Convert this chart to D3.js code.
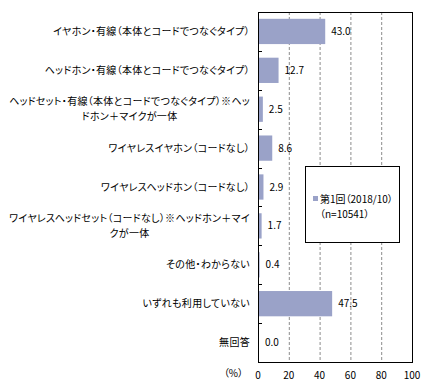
<!DOCTYPE html>
<html><head><meta charset="utf-8">
<script src="https://cdn.jsdelivr.net/npm/d3@7"></script>
<style>
html,body{margin:0;padding:0;background:#fff;}
svg text{font-family:"Noto Sans CJK JP","Noto Sans",sans-serif;fill:#000;font-feature-settings:"palt";}
</style></head>
<body><svg id="c" width="435" height="389"></svg>
<script>
const categories = [
  "イヤホン・有線（本体とコードでつなぐタイプ）",
  "ヘッドホン・有線（本体とコードでつなぐタイプ）",
  "ヘッドセット・有線（本体とコードでつなぐタイプ）※ヘッ\nドホン＋マイクが一体",
  "ワイヤレスイヤホン（コードなし）",
  "ワイヤレスヘッドホン（コードなし）",
  "ワイヤレスヘッドセット（コードなし）※ヘッドホン＋マイ\nクが一体",
  "その他・わからない",
  "いずれも利用していない",
  "無回答"
];
const values = [43.0, 12.7, 2.5, 8.6, 2.9, 1.7, 0.4, 47.5, 0.0];
const xTicks = [0, 20, 40, 60, 80, 100];
const seriesName = "第1回（2018/10）";
const seriesNote = "（n=10541）";
const unitLabel = "（%）";

const svg = d3.select("#c");
const m = {left: 258, top: 12, right: 412, bottom: 362};
const x = d3.scaleLinear().domain([0, 100]).range([m.left, m.right]);
const y = d3.scaleBand().domain(categories).range([m.top, m.bottom]).paddingInner(0.35).paddingOuter(0.175);
const barColor = "#9aa2c8";

// gridlines
svg.append("g").selectAll("line").data(xTicks.filter(t => t > 0 && t < 100)).join("line")
  .attr("x1", d => x(d) + 0.5).attr("x2", d => x(d) + 0.5)
  .attr("y1", m.top).attr("y2", m.bottom)
  .attr("stroke", "#8c8c8c").attr("stroke-dasharray", "3,2").attr("stroke-width", 1);

// bars
svg.append("g").selectAll("rect").data(values).join("rect")
  .attr("x", x(0) + 1).attr("y", (d, i) => y(categories[i]))
  .attr("width", d => Math.max(0, x(d) - x(0)))
  .attr("height", y.bandwidth())
  .attr("fill", barColor);

// frame
svg.append("rect").attr("x", m.left + 0.5).attr("y", m.top + 0.5)
  .attr("width", m.right - m.left).attr("height", m.bottom - m.top)
  .attr("fill", "none").attr("stroke", "#000").attr("stroke-width", 1);

// category ticks (inside, at band boundaries)
const step = y.step();
const bounds = categories.slice(1).map(c => y(c) - y.paddingInner() * step / 2);
svg.append("g").selectAll("line").data(bounds).join("line")
  .attr("x1", m.left).attr("x2", m.left + 4)
  .attr("y1", d => Math.round(d) + 0.5).attr("y2", d => Math.round(d) + 0.5)
  .attr("stroke", "#000");

// category labels
const labelG = svg.append("g");
const rightEdge = 250, maxW = 249;
categories.forEach((c, i) => {
  const lines = c.split("\n");
  const cy = y(c) + y.bandwidth() / 2;
  const lh = 15;
  if (lines.length === 1) {
    labelG.append("text").attr("font-size", 10).attr("letter-spacing", 0.3).attr("text-anchor", "end")
      .attr("x", rightEdge).attr("y", cy).attr("dy", "0.35em").text(lines[0]);
  } else {
    const ts = lines.map((ln, j) => labelG.append("text").attr("font-size", 10).attr("letter-spacing", 0.3)
      .attr("text-anchor", "middle")
      .attr("y", cy + (j - (lines.length - 1) / 2) * lh).attr("dy", "0.35em").text(ln));
    let w = d3.max(ts, t => t.node().getComputedTextLength());
    ts.forEach(t => {
      const tw = t.node().getComputedTextLength();
      if (tw > maxW) t.attr("textLength", maxW).attr("lengthAdjust", "spacingAndGlyphs");
    });
    w = Math.min(w, maxW);
    ts.forEach(t => t.attr("x", rightEdge - w / 2));
  }
});

// value labels
svg.append("g").selectAll("text").data(values).join("text")
  .attr("x", d => x(d) + 7).attr("y", (d, i) => y(categories[i]) + y.bandwidth() / 2)
  .attr("dy", "0.35em").attr("font-size", 10)
  .text(d => d.toFixed(1));

// x axis labels
svg.append("g").selectAll("text").data(xTicks).join("text")
  .attr("x", d => x(d)).attr("y", 375).attr("dy", "0.35em").attr("text-anchor", "middle")
  .attr("font-size", 10).text(d => d);

svg.append("text").attr("x", 243).attr("y", 373).attr("dy", "0.35em").attr("text-anchor", "end")
  .attr("font-size", 10).text(unitLabel);

// legend
const lg = svg.append("g");
lg.append("rect").attr("x", 305.5).attr("y", 166.5).attr("width", 94).attr("height", 76)
  .attr("fill", "#fff").attr("stroke", "#000");
lg.append("rect").attr("x", 313).attr("y", 196).attr("width", 5).attr("height", 5).attr("fill", barColor);
lg.append("text").attr("x", 320).attr("y", 199).attr("dy", "0.35em").attr("font-size", 10).text(seriesName);
lg.append("text").attr("x", 320).attr("y", 214).attr("dy", "0.35em").attr("font-size", 10).text(seriesNote);
</script></body></html>
